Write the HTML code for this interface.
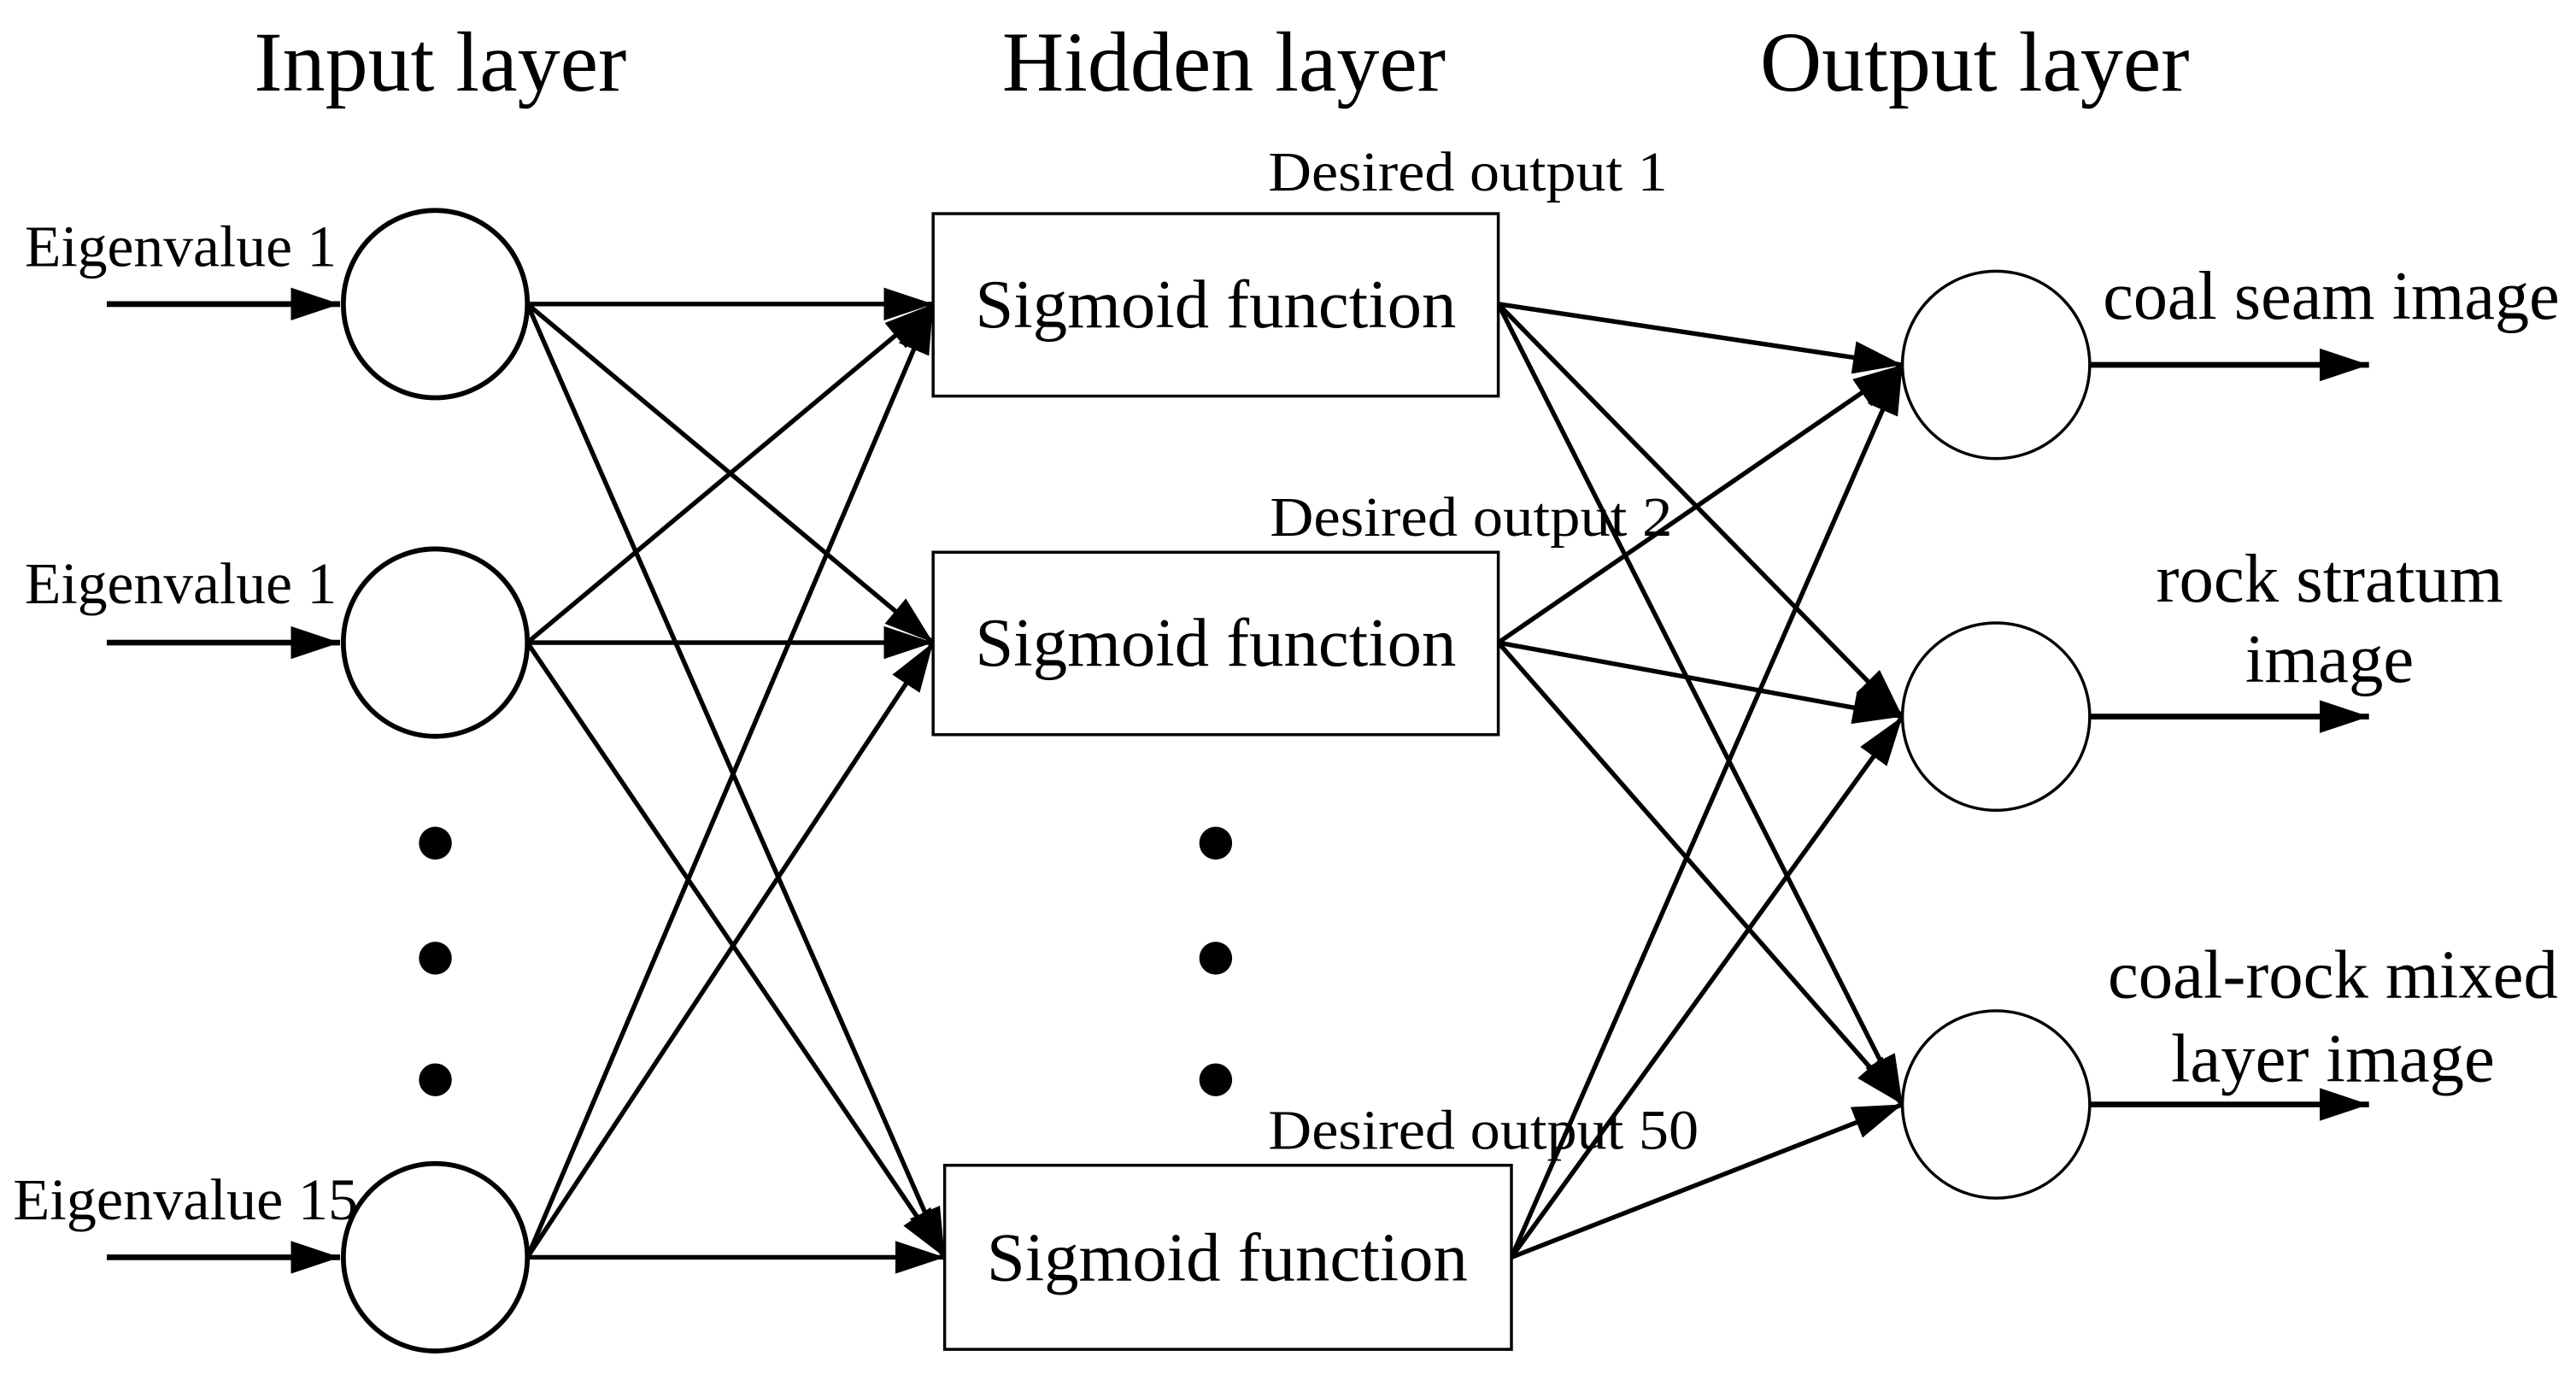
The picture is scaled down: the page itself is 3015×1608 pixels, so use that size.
<!DOCTYPE html>
<html><head><meta charset="utf-8"><style>
html,body{margin:0;padding:0;background:#fff;}
svg{display:block;}
text{font-family:"Liberation Serif",serif;fill:#000;}
</style></head><body>
<svg width="3015" height="1608" viewBox="0 0 1568 836" preserveAspectRatio="none" xmlns="http://www.w3.org/2000/svg">
<defs>
<marker id="ah" viewBox="0 0 30 20" refX="30" refY="10" markerWidth="30" markerHeight="20" markerUnits="userSpaceOnUse" orient="auto">
<path d="M0,0 L30,10 L0,20 Z" fill="#000"/>
</marker>
</defs>
<g font-size="52" text-anchor="middle">
<text x="268" y="55">Input layer</text>
<text x="745" y="55">Hidden layer</text>
<text x="1202" y="55">Output layer</text>
</g>
<g font-size="36">
<text x="15" y="162" textLength="190" lengthAdjust="spacingAndGlyphs">Eigenvalue 1</text>
<text x="15" y="367" textLength="190" lengthAdjust="spacingAndGlyphs">Eigenvalue 1</text>
<text x="8" y="742" textLength="210" lengthAdjust="spacingAndGlyphs">Eigenvalue 15</text>
</g>
<g font-size="34">
<text x="772" y="116" textLength="243" lengthAdjust="spacingAndGlyphs">Desired output 1</text>
<text x="773" y="326" textLength="245" lengthAdjust="spacingAndGlyphs">Desired output 2</text>
<text x="772" y="699" textLength="262" lengthAdjust="spacingAndGlyphs">Desired output 50</text>
</g>
<g font-size="42">
<text x="1280" y="194" textLength="278" lengthAdjust="spacingAndGlyphs">coal seam image</text>
<text x="1418" y="366" text-anchor="middle">rock stratum</text>
<text x="1418" y="415" text-anchor="middle">image</text>
<text x="1420" y="607" text-anchor="middle">coal-rock mixed</text>
<text x="1420" y="658" text-anchor="middle">layer image</text>
</g>
<g stroke="#000" stroke-width="3.5" fill="none" marker-end="url(#ah)">
<line x1="65" y1="185" x2="207" y2="185"/>
<line x1="65" y1="391" x2="207" y2="391"/>
<line x1="65" y1="765" x2="207" y2="765"/>
<line x1="1272" y1="222" x2="1442" y2="222"/>
<line x1="1272" y1="436" x2="1442" y2="436"/>
<line x1="1272" y1="672" x2="1442" y2="672"/>
</g>
<g stroke="#000" stroke-width="2.8" fill="none" marker-end="url(#ah)">
<line x1="321" y1="185" x2="568" y2="185"/>
<line x1="321" y1="185" x2="568" y2="391"/>
<line x1="321" y1="185" x2="575" y2="765"/>
<line x1="321" y1="391" x2="568" y2="185"/>
<line x1="321" y1="391" x2="568" y2="391"/>
<line x1="321" y1="391" x2="575" y2="765"/>
<line x1="321" y1="765" x2="568" y2="185"/>
<line x1="321" y1="765" x2="568" y2="391"/>
<line x1="321" y1="765" x2="575" y2="765"/>
<line x1="912" y1="185" x2="1158" y2="222"/>
<line x1="912" y1="185" x2="1158" y2="436"/>
<line x1="912" y1="185" x2="1158" y2="672"/>
<line x1="912" y1="391" x2="1158" y2="222"/>
<line x1="912" y1="391" x2="1158" y2="436"/>
<line x1="912" y1="391" x2="1158" y2="672"/>
<line x1="920" y1="765" x2="1158" y2="222"/>
<line x1="920" y1="765" x2="1158" y2="436"/>
<line x1="920" y1="765" x2="1158" y2="672"/>
</g>
<g stroke="#000" stroke-width="3" fill="#fff">
<ellipse cx="265" cy="185" rx="56" ry="57"/>
<ellipse cx="265" cy="391" rx="56" ry="57"/>
<ellipse cx="265" cy="765" rx="56" ry="57"/>
</g>
<g stroke="#000" stroke-width="1.8" fill="#fff">
<ellipse cx="1215" cy="222" rx="57" ry="57"/>
<ellipse cx="1215" cy="436" rx="57" ry="57"/>
<ellipse cx="1215" cy="672" rx="57" ry="57"/>
<rect x="568" y="130" width="344" height="111"/>
<rect x="568" y="336" width="344" height="111"/>
<rect x="575" y="709" width="345" height="112"/>
</g>
<g font-size="42" text-anchor="middle">
<text x="740" y="199">Sigmoid function</text>
<text x="740" y="405">Sigmoid function</text>
<text x="747" y="779">Sigmoid function</text>
</g>
<g fill="#000">
<ellipse cx="265" cy="513" rx="10" ry="10"/>
<ellipse cx="265" cy="583" rx="10" ry="10"/>
<ellipse cx="265" cy="657" rx="10" ry="10"/>
<ellipse cx="740" cy="513" rx="10" ry="10"/>
<ellipse cx="740" cy="583" rx="10" ry="10"/>
<ellipse cx="740" cy="657" rx="10" ry="10"/>
</g>
</svg>
</body></html>
